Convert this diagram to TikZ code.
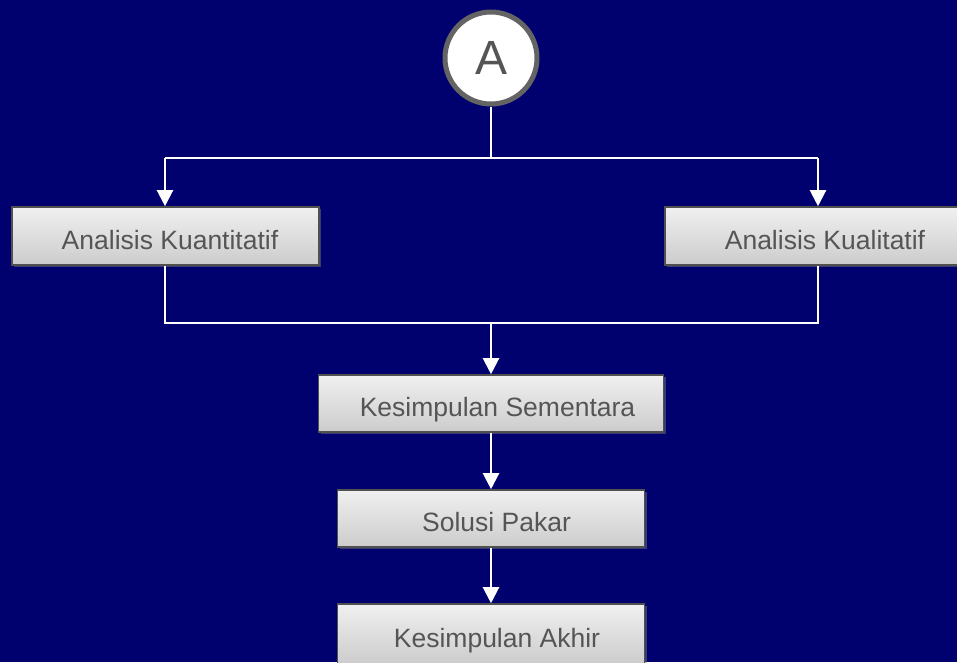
\documentclass[tikz,border=0pt]{standalone}
\usepackage{fontspec}
\setmainfont{Liberation Sans}
\usetikzlibrary{arrows.meta,shadows}
\definecolor{navy}{RGB}{0,0,110}
\definecolor{boxtop}{RGB}{240,240,240}
\definecolor{boxbot}{RGB}{204,204,204}
\definecolor{boxline}{RGB}{80,80,80}
\definecolor{ink}{RGB}{85,85,85}
\definecolor{ring}{RGB}{100,100,100}
\tikzset{
  stepbox/.style={rectangle, draw=boxline, line width=1.6pt,
    top color=boxtop, bottom color=boxbot, text=ink,
    font=\fontsize{26.5}{30}\selectfont, inner sep=0pt,
    text height=29pt, text depth=3pt,
    drop shadow={shadow xshift=2pt, shadow yshift=-2pt, opacity=0.45}},
  wire/.style={draw=white, line width=2.2pt},
  flow/.style={wire, -{Triangle[width=16pt,length=16pt]}},
  connector/.style={circle, fill=white, draw=ring, line width=5pt,
    minimum size=92pt, inner sep=0pt, text=ink,
    font=\fontsize{48}{52}\selectfont}
}
\begin{document}
\begin{tikzpicture}[x=1pt,y=-1pt]
  \fill[navy] (0,0) rectangle (957,662);
  \useasboundingbox (0,0) rectangle (957,662);

  % entry connector
  \node[connector] (A) at (491,58) {A};

  % analysis boxes
  \node[stepbox, minimum width=307pt, minimum height=58pt] (kuan) at (165.5,236)
    {\hspace*{9pt}Analisis Kuantitatif};
  \node[stepbox, minimum width=293pt, minimum height=58pt] (kual) at (811.5,236)
    {\hspace*{27pt}Analisis Kualitatif};

  % conclusion chain
  \node[stepbox, minimum width=345pt, minimum height=57pt] (sem) at (491,403.5)
    {\hspace*{13pt}Kesimpulan Sementara};
  \node[stepbox, minimum width=307pt, minimum height=57pt] (pakar) at (491,518.5)
    {\hspace*{11pt}Solusi Pakar};
  \node[stepbox, minimum width=307pt, minimum height=60pt] (akhir) at (491,634)
    {\hspace*{12pt}Kesimpulan Akhir};

  % split from A into both analyses
  \coordinate (split) at (491,158);
  \coordinate (sl) at (165,158);
  \coordinate (sr) at (818,158);
  \draw[wire] (A) -- (split);
  \draw[wire] (sl) -- (sr);
  \draw[flow] (sl) -- (sl |- kuan.north);
  \draw[flow] (sr) -- (sr |- kual.north);

  % merge both analyses
  \coordinate (ml) at (165,323);
  \coordinate (mr) at (818,323);
  \coordinate (merge) at (491,323);
  \draw[wire] (ml |- kuan.south) -- (ml) -- (mr) -- (mr |- kual.south);
  \draw[flow] (merge) -- (sem.north);

  \draw[flow] (sem.south) -- (pakar.north);
  \draw[flow] (pakar.south) -- (akhir.north);
\end{tikzpicture}
\end{document}
